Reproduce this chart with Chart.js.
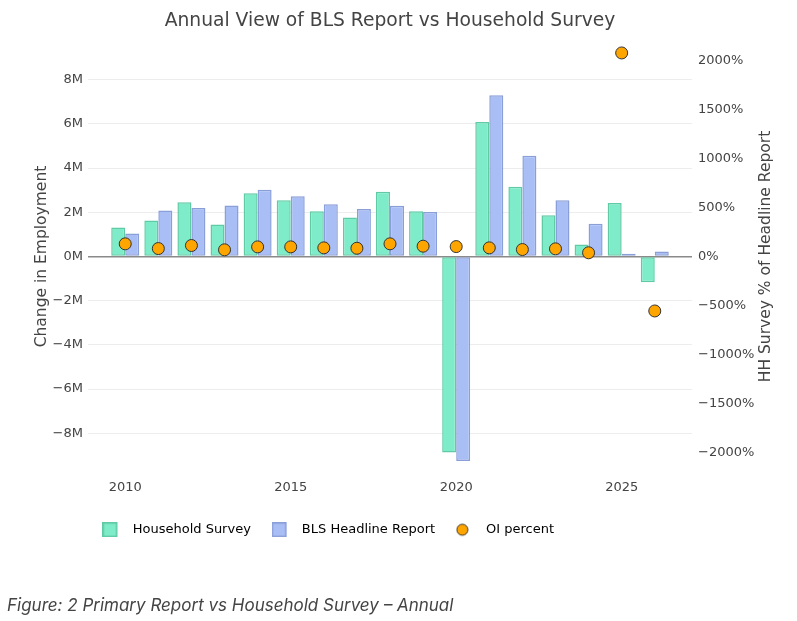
<!DOCTYPE html>
<html>
<head>
<meta charset="utf-8">
<script src="https://cdn.jsdelivr.net/npm/chart.js@4.4.1/dist/chart.umd.min.js"></script>
<style>
html, body { margin: 0; padding: 0; background: #fff; }
#wrap { position: relative; width: 797px; height: 621px; overflow: hidden; }
#c { position: absolute; left: 0; top: 0; }
#caption {
  position: absolute; left: 7px; top: 595px; line-height: 20px;
  font-family: Inter, "Noto Sans", sans-serif; font-style: italic; font-size: 17px;
  color: #444; white-space: nowrap; letter-spacing: 0px;
}
</style>
</head>
<body>
<div id="wrap">
  <canvas id="c" width="797" height="621"></canvas>
  <div id="caption">Figure: 2 Primary Report vs Household Survey – Annual</div>
</div>
<script>
// ---- data (employment change in millions, OI in percent) ----
const years = [2010, 2011, 2012, 2013, 2014, 2015, 2016, 2017, 2018, 2019, 2020, 2021, 2022, 2023, 2024, 2025, 2026];
const householdSurvey = [1.31, 1.63, 2.45, 1.45, 2.86, 2.54, 2.05, 1.77, 2.93, 2.05, -8.87, 6.09, 3.16, 1.87, 0.54, 2.42, -1.16];
const blsHeadline = [1.04, 2.08, 2.20, 2.31, 3.02, 2.73, 2.36, 2.15, 2.30, 2.01, -9.25, 7.30, 4.56, 2.54, 1.48, 0.12, 0.23];
const oiPercent = [129, 81, 112, 68, 98, 98, 88, 84, 129, 105, 101, 88, 71, 78, 38, 2074, -555];
const xTickYears = [2010, 2015, 2020, 2025];
const leftTicks = [-8, -6, -4, -2, 0, 2, 4, 6, 8];
const rightTicks = [-2000, -1500, -1000, -500, 0, 500, 1000, 1500, 2000];
const seriesNames = ['Household Survey', 'BLS Headline Report', 'OI percent'];

const FONT = '"DejaVu Sans", Verdana, sans-serif';
const TXT = '#444';
const greenFill = '#7eecc9', greenLine = '#5fcaa3';
const blueFill = '#a8bef4', blueLine = '#8a9ed8';
const orange = '#ffa500', dotLine = '#333';

const minus = (s) => s.replace('-', '\u2212');

function legendSymbol(kind, fill, stroke) {
  const cv = document.createElement('canvas');
  cv.width = 24; cv.height = 15;
  const g = cv.getContext('2d');
  g.fillStyle = fill; g.strokeStyle = stroke; g.lineWidth = 1.5;
  if (kind === 'rect') {
    g.fillRect(0.75, 0.75, 13.5, 13.5);
    g.strokeRect(0.75, 0.75, 13.5, 13.5);
  } else {
    g.lineWidth = 1;
    g.beginPath(); g.arc(6.5, 7.5, 5.5, 0, Math.PI * 2); g.fill(); g.stroke();
  }
  return cv;
}
const legendIcons = [
  legendSymbol('rect', greenFill, greenLine),
  legendSymbol('rect', blueFill, blueLine),
  legendSymbol('circle', orange, dotLine)
];

const rightTitlePlugin = {
  id: 'rightTitle',
  afterLayout(chart) {
    chart.legend.left = 81.7;
    chart.legend.top = 502.2;
  },
  afterDraw(chart) {
    const ca = chart.chartArea;
    const ctx = chart.ctx;
    ctx.save();
    ctx.translate(766, (ca.top + ca.bottom) / 2);
    ctx.rotate(-Math.PI / 2);
    ctx.font = '15.5px ' + FONT;
    ctx.fillStyle = TXT;
    ctx.textAlign = 'center';
    ctx.textBaseline = 'middle';
    ctx.fillText('HH Survey % of Headline Report', 0, 0);
    ctx.restore();
  }
};

const toPts = (arr) => years.map((yr, i) => ({ x: yr, y: arr[i] }));

new Chart(document.getElementById('c'), {
  type: 'bar',
  data: {
    datasets: [
      {
        type: 'scatter', label: seriesNames[2], data: toPts(oiPercent), yAxisID: 'y2', xAxisID: 'x',
        pointRadius: 6, pointHoverRadius: 6, backgroundColor: orange, borderColor: dotLine, borderWidth: 1, order: -1
      },
      {
        label: seriesNames[0], data: toPts(householdSurvey), yAxisID: 'y', xAxisID: 'x',
        backgroundColor: greenFill, borderColor: greenLine, borderWidth: 1.5, borderSkipped: false,
        categoryPercentage: 0.846, barPercentage: 1.0, order: 1
      },
      {
        label: seriesNames[1], data: toPts(blsHeadline), yAxisID: 'y', xAxisID: 'x',
        backgroundColor: blueFill, borderColor: blueLine, borderWidth: 1.5, borderSkipped: false,
        categoryPercentage: 0.846, barPercentage: 1.0, order: 1
      }
    ]
  },
  options: {
    responsive: false,
    animation: false,
    events: [],
    layout: { padding: { top: 0, left: 0, right: 0, bottom: 79 } },
    plugins: {
      title: {
        display: true, text: 'Annual View of BLS Report vs Household Survey',
        color: TXT, font: { family: FONT, size: 18.7, weight: 'normal', lineHeight: 1.2 },
        padding: { top: 10, bottom: 12.56 }, fullSize: false
      },
      legend: {
        display: true, position: 'bottom', align: 'start',
        labels: {
          usePointStyle: true, pointStyleWidth: 23.5, padding: 21, color: TXT,
          font: { family: FONT, size: 13 },
          generateLabels: () => [1, 2, 0].map((di, k) => ({
            text: seriesNames[k], pointStyle: legendIcons[k], fillStyle: 'transparent',
            strokeStyle: 'transparent', lineWidth: 0, datasetIndex: di, hidden: false
          }))
        }
      },
      tooltip: { enabled: false }
    },
    scales: {
      x: {
        type: 'linear', position: 'bottom', min: 2008.875, max: 2027.125, offset: false,
        grid: { display: false }, border: { display: false },
        ticks: { color: TXT, font: { family: FONT, size: 13 }, padding: 3.5, callback: (v) => String(v) },
        afterBuildTicks: (ax) => { ax.ticks = xTickYears.map((v) => ({ value: v })); },
        afterFit: (ax) => { ax.height = 30; }
      },
      y: {
        type: 'linear', position: 'left', min: -9.57, max: 9.57,
        grid: {
          drawTicks: false,
          color: (c) => (c.tick && c.tick.value === 0 ? '#8a8a8a' : '#ededed'),
          lineWidth: (c) => (c.tick && c.tick.value === 0 ? 1.5 : 1)
        },
        border: { display: false },
        ticks: { color: TXT, font: { family: FONT, size: 13 }, padding: 5, callback: (v) => minus(String(v)) + 'M' },
        afterBuildTicks: (ax) => { ax.ticks = leftTicks.map((v) => ({ value: v })); },
        afterFit: (ax) => { ax.width = 88; },
        title: {
          display: true, text: 'Change in Employment', color: TXT,
          font: { family: FONT, size: 15.5, lineHeight: 1.2 }, padding: { top: 32.7, bottom: 0 }
        }
      },
      y2: {
        type: 'linear', position: 'right', min: -2155, max: 2155,
        grid: { display: false, drawOnChartArea: false, drawTicks: false }, border: { display: false },
        ticks: { color: TXT, font: { family: FONT, size: 13 }, padding: 6, callback: (v) => minus(String(v)) + '%' },
        afterBuildTicks: (ax) => { ax.ticks = rightTicks.map((v) => ({ value: v })); },
        afterFit: (ax) => { ax.width = 105; }
      }
    }
  },
  plugins: [rightTitlePlugin]
});
</script>
</body>
</html>
